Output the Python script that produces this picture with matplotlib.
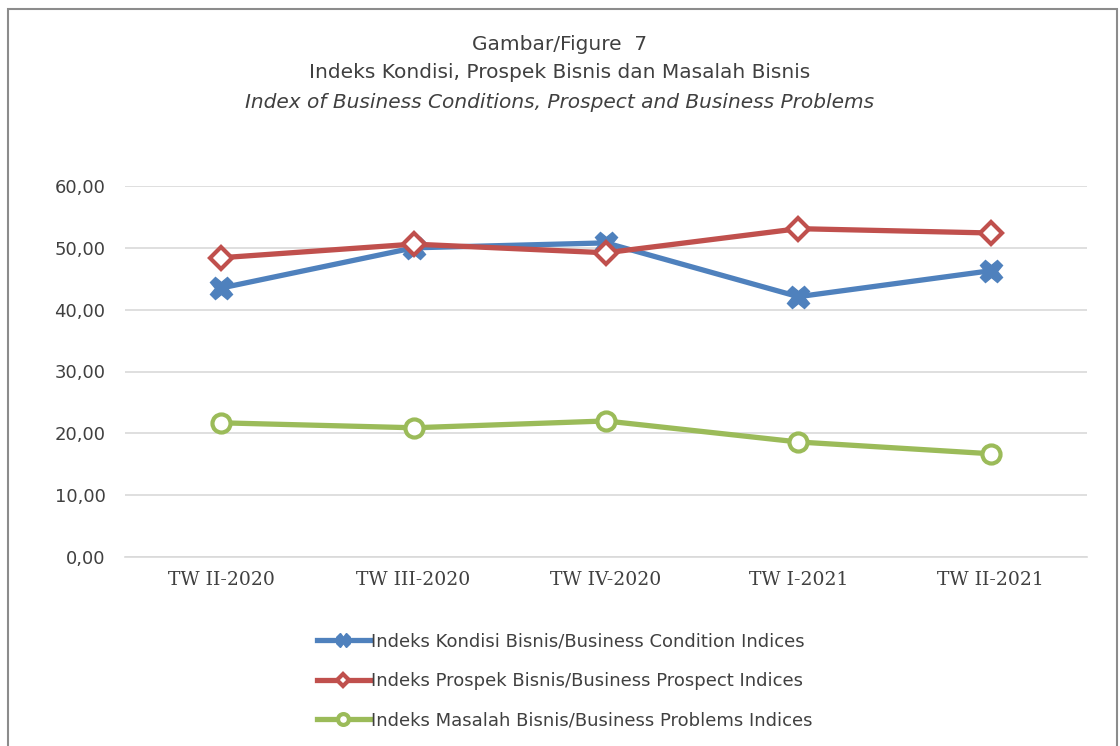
import numpy as np
import matplotlib
matplotlib.use('Agg')
import matplotlib.pyplot as plt
from matplotlib.patches import Rectangle
from matplotlib.ticker import FuncFormatter

# data
quarters = ['TW II-2020', 'TW III-2020', 'TW IV-2020', 'TW I-2021', 'TW II-2021']
kondisi = [43.5, 50.0, 50.8, 42.1, 46.3]
prospek = [48.4, 50.6, 49.2, 53.1, 52.4]
masalah = [21.7, 20.9, 22.0, 18.6, 16.7]

labels = ['Indeks Kondisi Bisnis/Business Condition Indices',
          'Indeks Prospek Bisnis/Business Prospect Indices',
          'Indeks Masalah Bisnis/Business Problems Indices']

fig = plt.figure(figsize=(11.2, 7.46), dpi=100)
fig.patches.append(Rectangle((8/1120, -0.1), 1109/1120, 1.1 - 9/746, transform=fig.transFigure,
                             fill=False, edgecolor='#8c8c8c', linewidth=1.5))

ax = fig.add_axes([125/1120, 1 - 557/746, 962/1120, (557 - 186)/746])
x = np.arange(len(quarters))

ax.plot(x, kondisi, color='#4f81bd', lw=3.8, marker='X', ms=16, mec='#4f81bd', mfc='#4f81bd',
        label=labels[0], zorder=3)
ax.plot(x, prospek, color='#c0504d', lw=3.8, marker='D', ms=11, mec='#c0504d', mfc='white',
        mew=3, label=labels[1], zorder=4)
ax.plot(x, masalah, color='#9bbb59', lw=3.8, marker='o', ms=13, mec='#9bbb59', mfc='white',
        mew=3, label=labels[2], zorder=3)

ax.set_xlim(-0.5, len(quarters) - 0.5)
ax.set_ylim(0, 60)
ax.set_yticks(np.arange(0, 61, 10))
ax.yaxis.set_major_formatter(FuncFormatter(lambda v, p: f'{v:.2f}'.replace('.', ',')))
ax.set_xticks(x)
ax.set_xticklabels(quarters, family='DejaVu Serif', fontsize=13.5, color='#404040')
ax.tick_params(axis='y', labelsize=13, labelcolor='#404040', length=0, pad=14)
ax.tick_params(axis='x', length=0, pad=10)
ax.grid(axis='y', color='#d9d9d9', lw=1.2)
ax.set_axisbelow(True)
for s in ['top', 'right', 'left']:
    ax.spines[s].set_visible(False)
ax.spines['bottom'].set_color('#d9d9d9')
ax.spines['bottom'].set_linewidth(1.2)

fig.text(0.5, 1 - 45/746, 'Gambar/Figure  7', ha='center', va='center', fontsize=14.5, color='#404040')
fig.text(0.5, 1 - 73/746, 'Indeks Kondisi, Prospek Bisnis dan Masalah Bisnis', ha='center', va='center',
         fontsize=14.5, color='#404040')
fig.text(0.5, 1 - 102/746, 'Index of Business Conditions, Prospect and Business Problems', ha='center',
         va='center', fontsize=14.5, style='italic', color='#404040')

fig.legend(loc='upper left', bbox_to_anchor=(301/1120, 1 - 616/746), frameon=False, fontsize=13,
           labelcolor='#404040', handlelength=2.9, handletextpad=0.1, labelspacing=1.2,
           markerscale=0.6)

plt.savefig('out.png', dpi=100)
